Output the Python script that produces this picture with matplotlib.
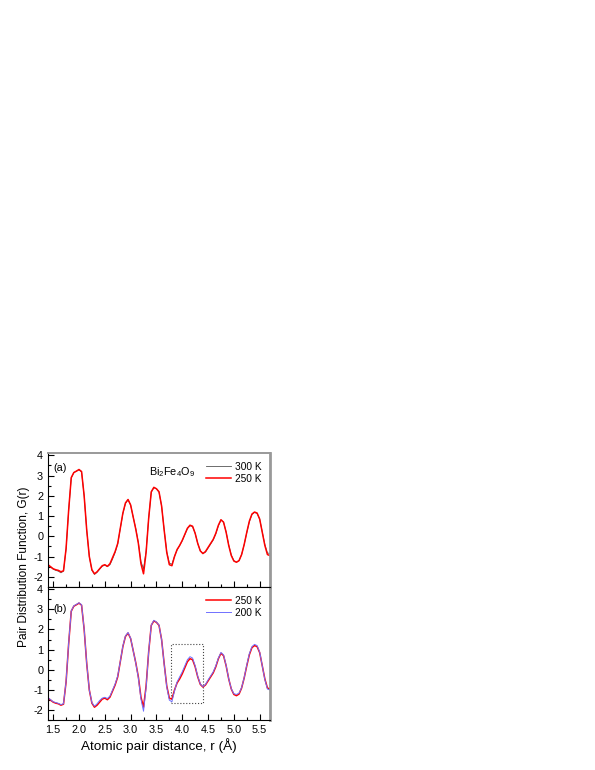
import numpy as np
import matplotlib.pyplot as plt
from matplotlib.patches import Rectangle
from matplotlib.ticker import MultipleLocator

plt.rcParams['font.family'] = ['Liberation Sans', 'DejaVu Sans']
plt.rcParams['axes.unicode_minus'] = False
plt.rcParams['mathtext.fontset'] = 'custom'
plt.rcParams['mathtext.rm'] = 'Liberation Sans'

# r grid (Angstrom)
r = np.round(np.arange(1.40, 5.7001, 0.05), 2)

g_250 = [-1.40, -1.50, -1.60, -1.65, -1.68, -1.75, -1.70, -0.60, 1.30, 2.90,
         3.15, 3.22, 3.30, 3.20, 2.00, 0.30, -1.00, -1.65, -1.85, -1.75,
         -1.60, -1.45, -1.40, -1.48, -1.35, -1.05, -0.75, -0.35, 0.40, 1.15,
         1.65, 1.82, 1.55, 0.95, 0.35, -0.35, -1.35, -1.85, -0.80, 0.90,
         2.20, 2.42, 2.35, 2.20, 1.50, 0.30, -0.80, -1.40, -1.45, -1.00,
         -0.65, -0.45, -0.20, 0.10, 0.40, 0.55, 0.50, 0.15, -0.35, -0.72,
         -0.85, -0.75, -0.55, -0.35, -0.15, 0.15, 0.55, 0.82, 0.70, 0.20,
         -0.45, -0.95, -1.22, -1.28, -1.20, -0.90, -0.40, 0.20, 0.75, 1.10,
         1.20, 1.15, 0.85, 0.20, -0.45, -0.90, -0.95]

g_300 = [-1.42, -1.52, -1.62, -1.68, -1.72, -1.80, -1.72, -0.62, 1.28, 2.88,
         3.15, 3.22, 3.28, 3.18, 2.00, 0.30, -1.00, -1.68, -1.88, -1.78,
         -1.62, -1.48, -1.42, -1.50, -1.40, -1.12, -0.80, -0.38, 0.38, 1.12,
         1.62, 1.80, 1.55, 0.95, 0.38, -0.30, -1.25, -1.60, -0.72, 0.90,
         2.18, 2.40, 2.35, 2.18, 1.50, 0.32, -0.75, -1.32, -1.38, -0.98,
         -0.68, -0.45, -0.22, 0.08, 0.38, 0.52, 0.48, 0.15, -0.35, -0.72,
         -0.85, -0.78, -0.58, -0.38, -0.18, 0.12, 0.52, 0.80, 0.70, 0.22,
         -0.42, -0.92, -1.20, -1.27, -1.20, -0.90, -0.40, 0.18, 0.72, 1.08,
         1.18, 1.13, 0.85, 0.22, -0.40, -0.82, -0.85]

g_200 = [-1.38, -1.48, -1.58, -1.62, -1.66, -1.72, -1.68, -0.58, 1.32, 2.92,
         3.17, 3.24, 3.32, 3.22, 2.02, 0.30, -1.00, -1.62, -1.80, -1.68,
         -1.52, -1.40, -1.36, -1.42, -1.30, -1.00, -0.70, -0.30, 0.42, 1.18,
         1.68, 1.85, 1.57, 0.95, 0.33, -0.40, -1.45, -2.05, -0.88, 0.90,
         2.22, 2.45, 2.37, 2.22, 1.50, 0.28, -0.85, -1.50, -1.58, -1.05,
         -0.60, -0.35, -0.10, 0.20, 0.50, 0.65, 0.58, 0.20, -0.32, -0.70,
         -0.83, -0.72, -0.50, -0.30, -0.10, 0.20, 0.58, 0.86, 0.74, 0.22,
         -0.44, -0.94, -1.18, -1.22, -1.15, -0.88, -0.38, 0.24, 0.80, 1.15,
         1.26, 1.20, 0.88, 0.20, -0.48, -0.95, -1.00]

box_r = (3.78, 4.40)
box_g = (-1.62, 1.28)

fig = plt.figure(figsize=(5.95, 7.7), dpi=100)
ax1 = fig.add_axes([0.0807, 0.2377, 0.3731, 0.1736])
ax2 = fig.add_axes([0.0807, 0.0645, 0.3731, 0.1732])

ax1.plot(r, g_300, color='#555555', lw=0.6, label='300 K')
ax1.plot(r, g_250, color='red', lw=1.1, label='250 K')
ax2.plot(r, g_250, color='red', lw=1.1, label='250 K')
ax2.plot(r, g_200, color='#7070ff', lw=0.7, label='200 K')

ax2.add_patch(Rectangle((box_r[0], box_g[0]), box_r[1] - box_r[0], box_g[1] - box_g[0],
                        fill=False, ls=':', lw=0.8, ec='#444444'))

for ax in (ax1, ax2):
    ax.set_xlim(1.4, 5.7)
    ax.set_ylim(-2.5, 4.1)
    ax.xaxis.set_major_locator(MultipleLocator(0.5))
    ax.xaxis.set_minor_locator(MultipleLocator(0.25))
    ax.yaxis.set_major_locator(MultipleLocator(1))
    ax.yaxis.set_minor_locator(MultipleLocator(0.5))
    ax.tick_params(which='both', direction='in', top=False, right=False,
                   labelsize=7.8, width=0.8)
    ax.tick_params(which='major', length=4)
    ax.tick_params(which='minor', length=2)
    ax.spines['right'].set_color('#999999')
    ax.spines['right'].set_linewidth(2)
    ax.spines['left'].set_linewidth(0.8)
    ax.spines['bottom'].set_linewidth(0.8)
    ax.spines['top'].set_linewidth(0.8)
    ax.legend(loc='upper right', frameon=False, fontsize=7.3, handlelength=2.5,
              handletextpad=0.35, labelspacing=0.2, borderaxespad=0.45)

ax1.spines['top'].set_color('#999999')
ax1.spines['top'].set_linewidth(1.4)
ax1.tick_params(labelbottom=False)

ax1.text(0.025, 0.93, '(a)', transform=ax1.transAxes, fontsize=7.8, va='top')
ax2.text(0.025, 0.87, '(b)', transform=ax2.transAxes, fontsize=7.8, va='top')
ax1.text(0.455, 0.91, r'$\mathregular{Bi_2Fe_4O_9}$', transform=ax1.transAxes,
         fontsize=7.8, va='top')

ax2.set_xlabel('Atomic pair distance, r (Å)', fontsize=9.7, labelpad=2)
fig.text(0.041, 0.2636, 'Pair Distribution Function, G(r)', rotation=90,
         fontsize=8.6, ha='center', va='center')

fig.savefig('out.png', dpi=100)
